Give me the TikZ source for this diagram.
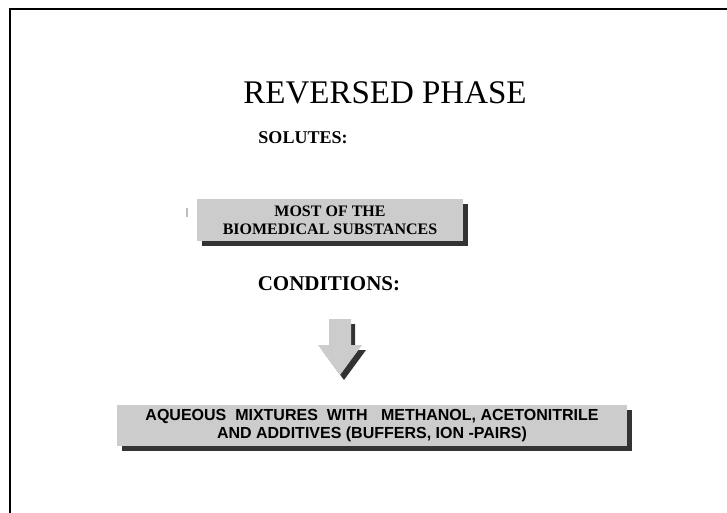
\documentclass[tikz,border=0pt]{standalone}
\usepackage{fontspec}
\setmainfont{Liberation Serif}
\setsansfont{Liberation Sans}
\usepackage{tikz}
\usetikzlibrary{positioning,shadows}

\definecolor{boxgray}{RGB}{204,204,204}
\definecolor{shadowgray}{RGB}{51,51,51}

\tikzset{
  heading/.style={font=\bfseries\fontsize{#1}{#1}\selectfont, anchor=base},
  panel/.style={rectangle, fill=boxgray, align=center, inner sep=0pt,
    general shadow={fill=shadowgray, shadow xshift=5pt, shadow yshift=-5pt}},
}

\begin{document}
\begin{tikzpicture}[x=1pt,y=-1pt]
   \useasboundingbox (0,0) rectangle (727,513);
   \draw[line width=2pt] (10,513) -- (10,9) -- (727,9);

   \node[anchor=base, font=\fontsize{33}{33}\selectfont] (title) at (385,104) {REVERSED PHASE};
   \node[heading=18] (solutes) at (303,143) {SOLUTES:};

   \node[panel, minimum width=266pt, minimum height=42pt,
         font=\bfseries\fontsize{16}{18}\selectfont] (solbox) at (330,220)
         {MOST OF THE\\BIOMEDICAL SUBSTANCES};
   \draw[boxgray!80!gray, line width=2pt] (187,208) -- (187,217);

   \node[heading=21] (cond) at (329,290) {CONDITIONS:};

   % block arrow
   \fill[shadowgray] (333,324) -- (355,324) -- (355,350) -- (366,350) -- (344,380) -- (322,350) -- (333,350) -- cycle;
   \fill[boxgray] (329,319) -- (351,319) -- (351,345) -- (362,345) -- (340,375) -- (318,345) -- (329,345) -- cycle;

   \node[panel, minimum width=510pt, minimum height=41pt,
         font=\sffamily\bfseries\fontsize{16}{18.5}\selectfont] (condbox) at (372,425.5)
         {AQUEOUS\ \ MIXTURES\ \ WITH\ \ \ METHANOL, ACETONITRILE\\AND ADDITIVES (BUFFERS, ION -PAIRS)};
\end{tikzpicture}
\end{document}
